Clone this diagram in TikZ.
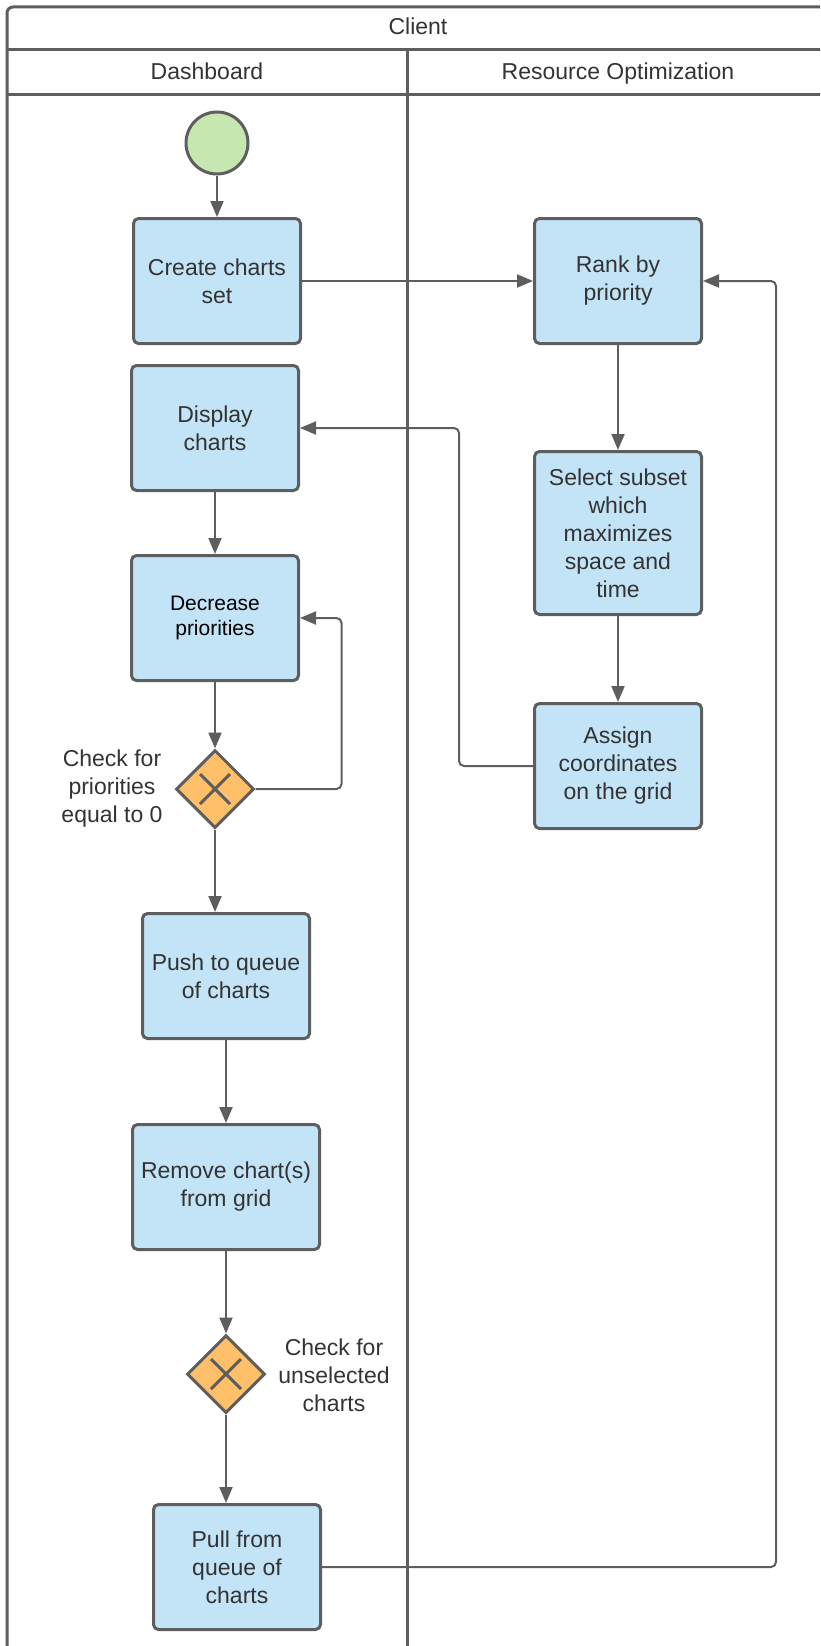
\documentclass[tikz,border=0pt]{standalone}
\usepackage{fontspec}
\setmainfont{Liberation Sans}
\usetikzlibrary{arrows.meta}
\usetikzlibrary{shapes.geometric}

\definecolor{lanegray}{HTML}{5E5E5E}
\definecolor{taskblue}{HTML}{C3E3F7}
\definecolor{startgreen}{HTML}{C6E8B0}
\definecolor{gateorange}{HTML}{FFC069}
\definecolor{labelgray}{HTML}{333333}

\begin{document}
\begin{tikzpicture}[x=1pt,y=-1pt, font=\fontsize{23}{28}\selectfont, text=labelgray,
      lane/.style={draw=lanegray, line width=3pt},
      task/.style={draw=lanegray, line width=3pt, fill=taskblue, rounded corners=5pt,
        align=center, inner sep=0pt, minimum width=167pt, minimum height=125pt},
      gate/.style={diamond, draw=lanegray, line width=3pt, fill=gateorange, inner sep=0pt,
        minimum size=78pt,
        path picture={\draw[lanegray, line width=3pt] (path picture bounding box.center)
          +(-15,-15) -- +(15,15) +(-15,15) -- +(15,-15);}},
      startev/.style={circle, draw=lanegray, line width=3pt, fill=startgreen, minimum size=62pt},
      flow/.style={draw=lanegray, line width=2pt, rounded corners=5pt,
        -{Triangle[length=16pt,width=13pt]}}]
      \useasboundingbox (0,0) rectangle (820,1646);
      \clip (0,0) rectangle (820,1646);

      \draw[lane, rounded corners=6pt] (7,1700) -- (7,7) -- (829,7) -- (829,1700);
      \draw[lane] (7,50) -- (829,50);
      \draw[lane] (7,94) -- (829,94);
      \draw[lane] (407,50) -- (407,1700);

      \node[anchor=base] (client) at (418,35) {Client};
      \node[anchor=base] (dashlane) at (207,79) {Dashboard};
      \node[anchor=base] (optlane) at (618,79) {Resource Optimization};

      \node[startev] (start) at (217,143) {};
      \node[task] (create) at (217,281) {Create charts\\set};
      \node[task] (rank) at (618,281) {Rank by\\priority};
      \node[task] (display) at (215,428) {Display\\charts};
      \node[task, minimum height=163pt] (select) at (618,533) {Select subset\\which\\maximizes\\space and\\time};
      \node[task, text=black, font=\fontsize{21}{25}\selectfont] (decrease) at (215,618) {Decrease\\priorities};
      \node[task] (assign) at (618,766) {Assign\\coordinates\\on the grid};
      \node[gate] (gate1) at (215,789) {};
      \node[align=center] (gate1lbl) at (112,789) {Check for\\priorities\\equal to 0};
      \node[task] (push) at (226,976) {Push to queue\\of charts};
      \node[task, minimum width=187pt] (remove) at (226,1187) {Remove chart(s)\\from grid};
      \node[gate] (gate2) at (226,1374) {};
      \node[align=center] (gate2lbl) at (334,1375) {Check for\\unselected\\charts};
      \node[task] (pull) at (237,1567) {Pull from\\queue of\\charts};

      \draw[flow] (start) -- (create);
      \draw[flow] (create) -- (rank);
      \draw[flow] (rank) -- (select);
      \draw[flow] (select) -- (assign);
      \draw[flow] (assign.west) -- ++(-74,0) |- (display.east);
      \draw[flow] (display) -- (decrease);
      \draw[flow] (decrease) -- (gate1);
      \draw[flow] (gate1.east) -- ++(86,0) |- (decrease.east);
      \draw[flow] (gate1.south) -- (gate1.south |- push.north);
      \draw[flow] (push) -- (remove);
      \draw[flow] (remove) -- (gate2);
      \draw[flow] (gate2.south) -- (gate2.south |- pull.north);
      \draw[flow] (pull.east) -- ++(454,0) |- (rank.east);
    \end{tikzpicture}
\end{document}
